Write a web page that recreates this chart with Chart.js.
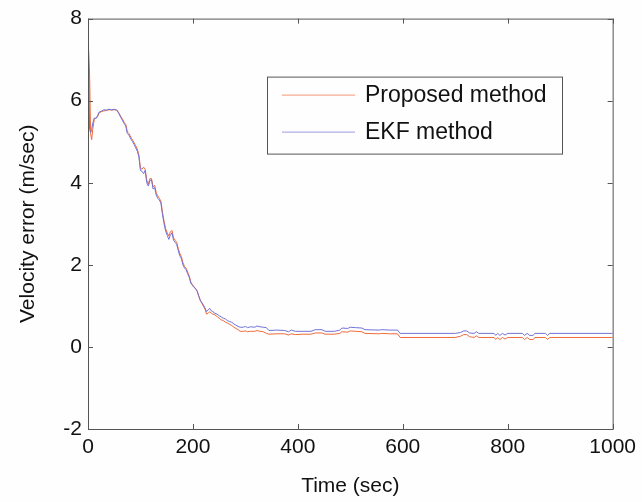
<!DOCTYPE html>
<html>
<head>
<meta charset="utf-8">
<title>Velocity error</title>
<script src="https://cdn.jsdelivr.net/npm/chart.js@4.4.1/dist/chart.umd.min.js"></script>
<style>
  html, body { margin: 0; padding: 0; background: #fefefe; }
  #wrap { width: 642px; height: 502px; }
</style>
</head>
<body>
<div id="wrap"><canvas id="velChart" width="642" height="502"></canvas></div>
<script>
// time axis (sec), shared by both series
const timeSec = [
  0, 1, 3, 5, 7, 9, 12, 15, 18, 21, 25, 30, 35, 40, 45, 50, 55, 59, 63, 66,
  69, 72, 75, 78, 82, 85, 88, 91, 94, 97, 100, 103, 106, 109, 112, 115, 118, 121, 124, 127,
  130, 133, 136, 139, 142, 145, 148, 151, 154, 157, 160, 163, 166, 169, 172, 175, 178, 181, 184, 187,
  190, 193, 196, 199, 202, 205, 208, 211, 214, 217, 220, 223, 226, 229, 232, 235, 238, 242, 246, 250,
  254, 258, 262, 266, 270, 274, 278, 282, 286, 290, 296, 300, 304, 310, 318, 322, 328, 334, 340, 345,
  360, 375, 382, 388, 395, 410, 425, 433, 446, 452, 470, 480, 484, 495, 500, 510, 522, 528, 555, 560,
  575, 590, 595, 700, 710, 716, 722, 727, 736, 740, 745, 774, 777, 781, 785, 790, 795, 800, 828, 832,
  837, 842, 848, 852, 872, 876, 880, 1000
];

// EKF method velocity error (m/sec)
const ekfError = [
  0, 7.37, 5.3, 5.22, 5.3, 5.45, 5.58, 5.56, 5.63, 5.72, 5.74, 5.78, 5.77, 5.79, 5.78, 5.79, 5.77, 5.68, 5.58, 5.51,
  5.44, 5.38, 5.2, 5.16, 5.06, 5.0, 4.93, 4.85, 4.77, 4.63, 4.3, 4.28, 4.22, 4.3, 4.0, 3.92, 4.05, 4.08, 3.85, 3.88,
  3.7, 3.62, 3.58, 3.5, 3.22, 3.0, 2.82, 2.72, 2.62, 2.72, 2.78, 2.6, 2.55, 2.5, 2.35, 2.22, 2.15, 2.0, 1.92, 1.88,
  1.78, 1.7, 1.55, 1.5, 1.45, 1.42, 1.36, 1.25, 1.14, 1.08, 1.02, 0.95, 0.86, 0.9, 0.94, 0.88, 0.86, 0.82, 0.8, 0.76,
  0.73, 0.7, 0.68, 0.64, 0.62, 0.6, 0.56, 0.53, 0.5, 0.48, 0.48, 0.5, 0.47, 0.49, 0.48, 0.51, 0.49, 0.48, 0.47, 0.4,
  0.41, 0.4, 0.37, 0.41, 0.38, 0.38, 0.38, 0.42, 0.42, 0.38, 0.38, 0.41, 0.46, 0.45, 0.48, 0.47, 0.46, 0.42, 0.41, 0.42,
  0.41, 0.41, 0.33, 0.33, 0.35, 0.39, 0.39, 0.34, 0.33, 0.37, 0.33, 0.33, 0.28, 0.33, 0.28, 0.33, 0.29, 0.33, 0.33, 0.28,
  0.33, 0.28, 0.28, 0.33, 0.33, 0.28, 0.33, 0.33
];

// Proposed method velocity error (m/sec)
const proposedError = [
  0, 7.22, 6.65, 5.2, 5.05, 5.3, 5.55, 5.58, 5.6, 5.7, 5.73, 5.75, 5.76, 5.78, 5.77, 5.78, 5.77, 5.7, 5.6, 5.55,
  5.47, 5.42, 5.24, 5.2, 5.1, 5.04, 4.97, 4.9, 4.82, 4.68, 4.36, 4.33, 4.38, 4.33, 4.06, 3.97, 4.1, 4.1, 3.9, 3.94,
  3.76, 3.68, 3.62, 3.55, 3.28, 3.06, 2.88, 2.78, 2.7, 2.8, 2.84, 2.66, 2.6, 2.55, 2.4, 2.28, 2.2, 2.05, 1.96, 1.92,
  1.82, 1.73, 1.58, 1.52, 1.47, 1.42, 1.36, 1.24, 1.13, 1.06, 0.99, 0.92, 0.8, 0.82, 0.86, 0.82, 0.8, 0.78, 0.74, 0.7,
  0.66, 0.64, 0.6, 0.58, 0.55, 0.52, 0.48, 0.45, 0.42, 0.38, 0.38, 0.39, 0.37, 0.38, 0.38, 0.4, 0.38, 0.37, 0.33, 0.31,
  0.32, 0.32, 0.29, 0.32, 0.3, 0.31, 0.31, 0.34, 0.34, 0.31, 0.31, 0.33, 0.37, 0.36, 0.39, 0.38, 0.37, 0.33, 0.32, 0.33,
  0.32, 0.32, 0.23, 0.23, 0.26, 0.3, 0.3, 0.25, 0.23, 0.27, 0.23, 0.23, 0.18, 0.23, 0.18, 0.23, 0.19, 0.23, 0.23, 0.18,
  0.23, 0.18, 0.18, 0.23, 0.23, 0.18, 0.23, 0.23
];

const xTicks = [0, 200, 400, 600, 800, 1000];
const yTicks = [-2, 0, 2, 4, 6, 8];
const seriesNames = ['Proposed method', 'EKF method'];

const FONT = "'Liberation Sans', Arial, Helvetica, sans-serif";
const AXIS_COLOR = '#555';
const ORANGE = '#ef6b3a';
const BLUE = '#7272d6';

// box around the axes with inward tick marks on all four sides, plus the legend box
const frameLegend = {
  id: 'frameLegend',
  afterDraw(chart) {
    const { ctx, chartArea: a, scales: { x, y } } = chart;
    const tl = 5;
    ctx.save();
    ctx.strokeStyle = AXIS_COLOR;
    ctx.lineWidth = 1;
    ctx.strokeRect(a.left + 0.5, a.top + 0.5, a.right - a.left, a.bottom - a.top);
    ctx.beginPath();
    xTicks.forEach(v => {
      const px = Math.round(x.getPixelForValue(v)) + 0.5;
      ctx.moveTo(px, a.bottom); ctx.lineTo(px, a.bottom - tl);
      ctx.moveTo(px, a.top); ctx.lineTo(px, a.top + tl);
    });
    yTicks.forEach(v => {
      const py = Math.round(y.getPixelForValue(v)) + 0.5;
      ctx.moveTo(a.left, py); ctx.lineTo(a.left + tl, py);
      ctx.moveTo(a.right, py); ctx.lineTo(a.right - tl, py);
    });
    ctx.stroke();

    // legend
    const bx = a.left + 179, by = a.top + 58, bw = 295, bh = 77;
    ctx.fillStyle = '#fefefe';
    ctx.fillRect(bx, by, bw, bh);
    ctx.strokeRect(bx + 0.5, by + 0.5, bw, bh);
    const rows = [by + 18, by + 55];
    const colors = [ORANGE, BLUE];
    ctx.font = '23px ' + FONT;
    ctx.textBaseline = 'middle';
    rows.forEach((ry, i) => {
      ctx.strokeStyle = colors[i];
      ctx.globalAlpha = 0.7;
      ctx.beginPath();
      ctx.moveTo(bx + 15, ry + 0.5);
      ctx.lineTo(bx + 88, ry + 0.5);
      ctx.stroke();
      ctx.globalAlpha = 1;
      ctx.fillStyle = '#111';
      ctx.fillText(seriesNames[i], bx + 98, ry + 1);
    });
    ctx.restore();
  }
};

new Chart(document.getElementById('velChart'), {
  type: 'line',
  data: {
    datasets: [
      {
        label: seriesNames[0],
        data: timeSec.map((t, i) => ({ x: t, y: proposedError[i] })),
        borderColor: ORANGE,
        borderWidth: 1,
        pointRadius: 0,
        order: 1
      },
      {
        label: seriesNames[1],
        data: timeSec.map((t, i) => ({ x: t, y: ekfError[i] })),
        borderColor: BLUE,
        borderWidth: 1,
        pointRadius: 0,
        order: 0
      }
    ]
  },
  options: {
    responsive: false,
    animation: false,
    layout: { padding: { left: 0, top: 17, right: 27, bottom: 0 } },
    plugins: {
      legend: { display: false },
      tooltip: { enabled: false }
    },
    scales: {
      x: {
        type: 'linear',
        min: 0,
        max: 1000,
        afterBuildTicks: s => { s.ticks = xTicks.map(v => ({ value: v })); },
        afterFit: s => { s.height = 73; },
        grid: { display: false, drawTicks: false },
        border: { display: false },
        ticks: {
          color: '#111', padding: 6, maxRotation: 0,
          font: { family: FONT, size: 21 },
          callback: v => String(v)
        },
        title: {
          display: true,
          text: 'Time (sec)',
          color: '#111',
          font: { family: FONT, size: 21 },
          padding: { top: 0, bottom: 3 }
        }
      },
      y: {
        min: -2,
        max: 8,
        afterBuildTicks: s => { s.ticks = yTicks.map(v => ({ value: v })); },
        afterFit: s => { s.width = 88; },
        grid: { display: false, drawTicks: false },
        border: { display: false },
        ticks: {
          color: '#111', padding: 6,
          font: { family: FONT, size: 21 },
          callback: v => String(v)
        },
        title: {
          display: true,
          text: 'Velocity error (m/sec)',
          color: '#111',
          font: { family: FONT, size: 21 },
          padding: { top: 16, bottom: 0 }
        }
      }
    }
  },
  plugins: [frameLegend]
});
</script>
</body>
</html>
